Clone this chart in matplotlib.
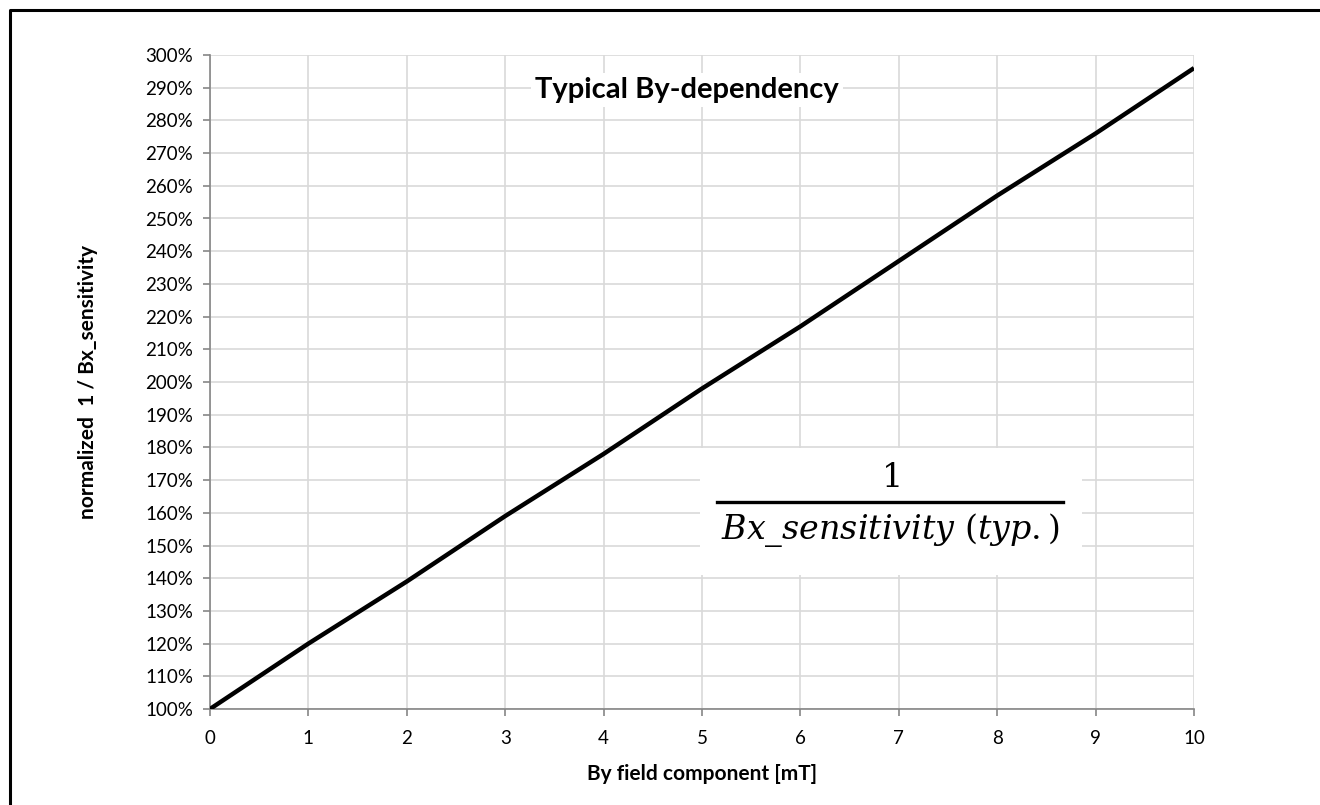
import matplotlib.pyplot as plt
from matplotlib.lines import Line2D
from matplotlib.patches import Rectangle
from matplotlib.ticker import MultipleLocator, FuncFormatter

plt.rcParams['font.family'] = ['Lato', 'DejaVu Sans']
plt.rcParams['mathtext.fontset'] = 'dejavuserif'

# values
by_field = [0, 1, 2, 3, 4, 5, 6, 7, 8, 9, 10]
norm_inv_sens = [100, 120, 139, 159, 178, 198, 217, 237, 257, 276, 296]

W, H = 1320, 805
fig = plt.figure(figsize=(W / 100, H / 100), dpi=100)
ax = fig.add_axes([210 / W, 1 - 709 / H, (1194 - 210) / W, (709 - 55) / H])

grid_col = '#d9d9d9'
axis_col = '#868686'

ax.plot(by_field, norm_inv_sens, color='black', lw=3.2, solid_capstyle='butt', zorder=4)

ax.set_xlim(0, 10)
ax.set_ylim(100, 300)
ax.xaxis.set_major_locator(MultipleLocator(1))
ax.yaxis.set_major_locator(MultipleLocator(10))
ax.yaxis.set_major_formatter(FuncFormatter(lambda v, p: f'{v:.0f}%'))
ax.grid(True, color=grid_col, lw=1.2)
ax.set_axisbelow(True)

for s in ['top', 'right']:
    ax.spines[s].set_visible(False)
for s in ['left', 'bottom']:
    ax.spines[s].set_color(axis_col)
    ax.spines[s].set_linewidth(1.2)
ax.tick_params(axis='both', colors=axis_col, length=5, width=1.2, labelsize=13.5,
               labelcolor='black')
ax.tick_params(axis='x', pad=10)
ax.tick_params(axis='y', pad=7)

ax.set_xlabel('By field component [mT]', fontsize=15, fontweight='bold', labelpad=12)
ax.set_ylabel('normalized  1 / Bx_sensitivity', fontsize=15, fontweight='bold', labelpad=34)

# title with white background over the grid
fig.text(687 / W, 1 - 90 / H, 'Typical By-dependency', fontsize=21, fontweight='bold',
         ha='center', va='center', zorder=5,
         bbox=dict(facecolor='white', edgecolor='none', pad=3))

# formula box
box = Rectangle((700 / W, 1 - 575 / H), (1082 - 700) / W, (575 - 448) / H,
                transform=fig.transFigure, facecolor='white', edgecolor='none', zorder=3)
fig.add_artist(box)
fig.text(890 / W, 1 - 478 / H, r'$1$', fontsize=24, ha='center', va='center', zorder=5)
fig.add_artist(Line2D([717 / W, 1063 / W], [1 - 502 / H, 1 - 502 / H],
                      transform=fig.transFigure, color='black', lw=2.4, zorder=5))
fig.text(890 / W, 1 - 530 / H, r'$Bx\_sensitivity\ (typ.)$', fontsize=24,
         ha='center', va='center', zorder=5)

# chart frame (left and top edges visible)
fig.add_artist(Line2D([9.5 / W, 9.5 / W, 1.0], [0.0, 1 - 10.5 / H, 1 - 10.5 / H],
                      transform=fig.transFigure, color='black', lw=2.2))

fig.savefig('out.png', dpi=100)
